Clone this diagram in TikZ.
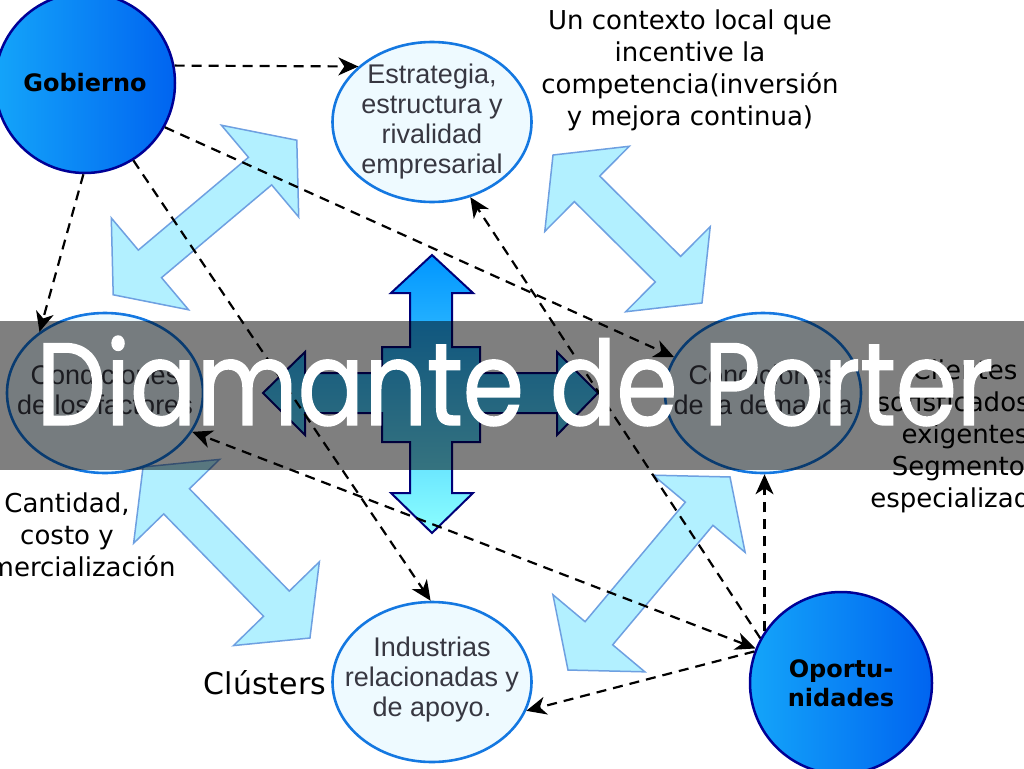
\documentclass[tikz,border=0pt]{standalone}
\usepackage{fontspec}
\setmainfont{Liberation Sans}
\newfontfamily\dejavu{DejaVu Sans}
\newfontfamily\poppins[FakeStretch=0.84,FakeBold=1.2]{Poppins}
\usetikzlibrary{arrows.meta,shapes.geometric}
\definecolor{ellblue}{RGB}{20,120,225}
\definecolor{ellfill}{RGB}{238,250,255}
\definecolor{txtgray}{RGB}{55,55,65}
\definecolor{navyedge}{RGB}{0,0,150}
\definecolor{circL}{RGB}{20,165,250}
\definecolor{circR}{RGB}{0,100,240}
\definecolor{lightfill}{RGB}{178,240,255}
\definecolor{lightedge}{RGB}{110,160,225}
\definecolor{crossTop}{RGB}{0,150,255}
\definecolor{crossBot}{RGB}{140,255,255}
\definecolor{crossEdge}{RGB}{0,0,120}
% light double arrow: centre x, centre y, angle, half length
\newcommand{\LightDArrow}[4]{%
  \draw[lightarrow, shift={(#1,#2)}, rotate=#3]
    (-#4,0) -- (-#4+48,60) -- (-#4+48,18) -- (#4-48,18) -- (#4-48,60) -- (#4,0)
    -- (#4-48,-60) -- (#4-48,-18) -- (-#4+48,-18) -- (-#4+48,-60) -- cycle;}
\begin{document}
\begin{tikzpicture}[x=1pt,y=-1pt,
  >={Stealth[length=20pt,width=18pt,inset=6pt]},
  factor/.style={ellipse, draw=ellblue, line width=2.6pt, fill=ellfill,
    minimum width=199pt, minimum height=160pt, inner sep=0pt},
  ftext/.style={align=center, inner sep=0pt, text=txtgray,
    font=\fontsize{27}{30}\selectfont},
  actor/.style={circle, draw=navyedge, line width=2.5pt, left color=circL,
    right color=circR, minimum size=180pt, inner sep=0pt, align=center,
    font=\dejavu\bfseries\fontsize{24}{29}\selectfont},
  note/.style={align=center, inner sep=0pt, font=\dejavu\fontsize{26}{32}\selectfont},
  lightarrow/.style={fill=lightfill, draw=lightedge, line width=1.5pt, line join=miter},
  crossarrow/.style={top color=crossTop, bottom color=crossBot, draw=crossEdge,
    line width=2pt, line join=miter},
  dashline/.style={->, draw=black, line width=2.2pt, dash pattern=on 10pt off 7pt},
]
\useasboundingbox (0,0) rectangle (1024,768);
\clip (0,0) rectangle (1024,768);
\fill[white] (0,0) rectangle (1024,768);

% light double arrows
\LightDArrow{205}{217.5}{40.1}{120}
\LightDArrow{627.5}{229}{-44.8}{105}
\LightDArrow{226.5}{552.5}{-45.7}{119.5}
\LightDArrow{649}{573.5}{50}{126}

% central cross
\draw[crossarrow] (432,255) -- (473,293) -- (452,293) -- (452,347) -- (480,347)
  -- (480,373) -- (557,373) -- (557,352) -- (598,393) -- (557,435) -- (557,413)
  -- (480,413) -- (480,442) -- (452,442) -- (452,493) -- (473,493) -- (432,533)
  -- (391,493) -- (410,493) -- (410,442) -- (382,442) -- (382,413) -- (305,413)
  -- (305,435) -- (263,393) -- (305,352) -- (305,373) -- (382,373) -- (382,347)
  -- (410,347) -- (410,293) -- (391,293) -- cycle;

% nodes
\node[actor] (gob) at (85,83) {Gobierno};
\node[actor, minimum size=182pt] (opo) at (841,683) {Oportu-\\nidades};
\node[factor] (est) at (432,122) {};
\node[factor, minimum width=196pt] (fac) at (105,393) {};
\node[factor, minimum width=196pt] (dem) at (763,393) {};
\node[factor] (ind) at (432,682) {};
\node[ftext] (estT) at (est.center) {Estrategia,\\estructura y\\rivalidad\\empresarial};
\node[ftext] (facT) at ([yshift=3pt]fac.center) {Condiciones\\de los factores};
\node[ftext] (demT) at ([yshift=3pt]dem.center) {Condiciones\\de la demanda};
\node[ftext] (indT) at ([yshift=2pt]ind.center) {Industrias\\relacionadas y\\de apoyo.};

% dashed connectors
\draw[dashline] (gob.11) -- (est.143);
\draw[dashline] (gob.-91) -- (fac.137);
\draw[dashline] (gob.-29) -- (dem.158);
\draw[dashline] (gob.-58) -- (ind.91);
\draw[dashline] (opo.151) -- (est.-63);
\draw[dashline, <->] (opo.158) -- (fac.-24);
\draw[dashline] (opo.146) -- (opo.146 |- dem.south);
\draw[dashline] (opo.160) -- (ind.-17.5);

% annotations
\node[note] (ctx) at (690,70) {Un contexto local que\\incentive la\\competencia(inversión\\y mejora continua)};
\node[note] (cant) at (67,535) {Cantidad,\\costo y\\comercialización};
\node[note] (cli) at (965,436) {Clientes\\sofisticados y\\exigentes\\Segmentos\\especializados};
\node[note, font=\dejavu\fontsize{30}{34}\selectfont] (clu) at (265,683) {Clústers};

% banner
\fill[black, opacity=0.5] (0,321) rectangle (1024,470);
\node[anchor=base, text=white, inner sep=0pt, font=\poppins\fontsize{117}{117}\selectfont] (title) at (515,425) {Diamante de Porter};
\end{tikzpicture}
\end{document}
